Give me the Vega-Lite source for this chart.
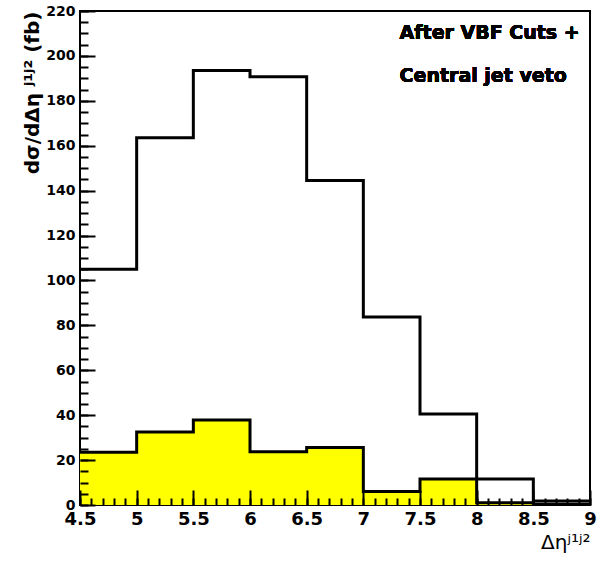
{
  "$schema": "https://vega.github.io/schema/vega-lite/v6.json",
  "width": 510,
  "height": 494,
  "autosize": {"type": "none"},
  "padding": {"left": 80, "top": 11, "right": 19, "bottom": 64},
  "background": "white",
  "config": {
    "view": {"stroke": "black", "strokeWidth": 2},
    "axis": {"grid": false, "domain": false, "labelFont": "DejaVu Sans", "labelFontWeight": "bold", "labelColor": "black", "titleColor": "black"}
  },
  "data": {
    "values": [
      {"eta": 4.5, "total": 105, "cjv": 23.5},
      {"eta": 5.0, "total": 163.5, "cjv": 32.5},
      {"eta": 5.5, "total": 193.5, "cjv": 37.8},
      {"eta": 6.0, "total": 190.7, "cjv": 23.7},
      {"eta": 6.5, "total": 144.5, "cjv": 25.6},
      {"eta": 7.0, "total": 83.7, "cjv": 6.0},
      {"eta": 7.5, "total": 40.5, "cjv": 11.6},
      {"eta": 8.0, "total": 11.6, "cjv": 1.0},
      {"eta": 8.5, "total": 1.8, "cjv": 0.3},
      {"eta": 9.0, "total": 1.8, "cjv": 0.3}
    ]
  },
  "resolve": {"axis": {"x": "independent", "y": "independent"}},
  "layer": [
    {
      "mark": {"type": "area", "interpolate": "step-after", "color": "#ffff00"},
      "encoding": {
        "x": {"field": "eta", "type": "quantitative", "scale": {"domain": [4.5, 9], "nice": false, "zero": false},
          "axis": {"orient": "bottom", "values": [4.5, 5, 5.5, 6, 6.5, 7, 7.5, 8, 8.5, 9], "format": "~g", "ticks": false, "labelFontSize": 18, "labelPadding": 5, "labelFlush": false, "labelOverlap": false,
            "title": "Δηʲ¹ʲ²", "titleFont": "DejaVu Sans", "titleFontSize": 20, "titleFontWeight": "normal", "titleAnchor": "end", "titlePadding": 4}},
        "y": {"field": "cjv", "type": "quantitative", "scale": {"domain": [0, 220], "nice": false},
          "axis": {"orient": "left", "values": [0, 20, 40, 60, 80, 100, 120, 140, 160, 180, 200, 220], "ticks": false, "labelFontSize": 14, "labelPadding": 5,
            "title": "dσ/dΔη ʲ¹ʲ² (fb)", "titleFont": "DejaVu Sans", "titleFontSize": 20, "titleFontWeight": "bold", "titleAnchor": "end", "titlePadding": 3}}
      }
    },
    {
      "mark": {"type": "line", "interpolate": "step-after", "color": "black", "strokeWidth": 3},
      "encoding": {
        "x": {"field": "eta", "type": "quantitative",
          "axis": {"orient": "bottom", "zindex": 2, "offset": -15, "values": [4.5, 5, 5.5, 6, 6.5, 7, 7.5, 8, 8.5, 9], "labels": false, "ticks": true, "tickSize": 15, "tickColor": "#000000", "tickOpacity": 1, "tickWidth": 2, "title": null}},
        "y": {"field": "cjv", "type": "quantitative",
          "axis": {"orient": "left", "zindex": 2, "offset": -15, "values": [0, 20, 40, 60, 80, 100, 120, 140, 160, 180, 200, 220], "labels": false, "ticks": true, "tickSize": 15, "tickColor": "#000000", "tickOpacity": 1, "tickWidth": 2, "title": null}}
      }
    },
    {
      "mark": {"type": "line", "interpolate": "step-after", "color": "black", "strokeWidth": 3},
      "encoding": {
        "x": {"field": "eta", "type": "quantitative",
          "axis": {"orient": "bottom", "zindex": 2, "offset": -7, "values": [4.5, 4.6, 4.7, 4.8, 4.9, 5, 5.1, 5.2, 5.3, 5.4, 5.5, 5.6, 5.7, 5.8, 5.9, 6, 6.1, 6.2, 6.3, 6.4, 6.5, 6.6, 6.7, 6.8, 6.9, 7, 7.1, 7.2, 7.3, 7.4, 7.5, 7.6, 7.7, 7.8, 7.9, 8, 8.1, 8.2, 8.3, 8.4, 8.5, 8.6, 8.7, 8.8, 8.9, 9], "labels": false, "ticks": true, "tickSize": 7, "tickColor": "#000000", "tickOpacity": 1, "tickWidth": 2, "title": null}},
        "y": {"field": "total", "type": "quantitative",
          "axis": {"orient": "left", "zindex": 2, "offset": -8, "values": [0, 5, 10, 15, 20, 25, 30, 35, 40, 45, 50, 55, 60, 65, 70, 75, 80, 85, 90, 95, 100, 105, 110, 115, 120, 125, 130, 135, 140, 145, 150, 155, 160, 165, 170, 175, 180, 185, 190, 195, 200, 205, 210, 215, 220], "labels": false, "ticks": true, "tickSize": 8, "tickColor": "#000000", "tickOpacity": 1, "tickWidth": 2, "title": null}}
      }
    },
    {
      "mark": {"type": "text", "text": "After VBF Cuts +", "align": "left", "baseline": "middle", "font": "DejaVu Sans", "fontWeight": "bold", "fontSize": 19, "color": "black"},
      "encoding": {
        "x": {"datum": 7.32, "type": "quantitative", "axis": null},
        "y": {"datum": 210, "type": "quantitative", "axis": null}
      }
    },
    {
      "mark": {"type": "text", "text": "Central jet veto", "align": "left", "baseline": "middle", "font": "DejaVu Sans", "fontWeight": "bold", "fontSize": 19, "color": "black"},
      "encoding": {
        "x": {"datum": 7.32, "type": "quantitative", "axis": null},
        "y": {"datum": 191, "type": "quantitative", "axis": null}
      }
    }
  ]
}
